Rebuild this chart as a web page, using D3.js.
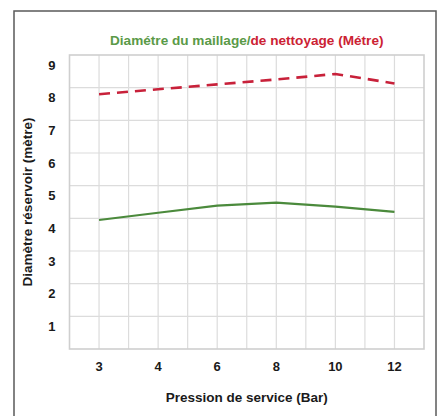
<!DOCTYPE html>
<html><head><meta charset="utf-8">
<script src="https://cdn.jsdelivr.net/npm/d3@7"></script>
<style>body{margin:0;background:#fff}svg{display:block}text{font-family:"Liberation Sans",Arial,sans-serif;font-weight:bold}</style>
</head><body>
<script>
const categories = ["3","4","6","8","10","12"];
const cleaningDiameter = [7.8, 7.95, 8.1, 8.25, 8.42, 8.13];
const meshDiameter = [3.95, 4.17, 4.39, 4.48, 4.36, 4.2];
const yTicks = [1,2,3,4,5,6,7,8,9];

const W = 442, H = 416;
const svg = d3.select("body").append("svg").attr("width", W).attr("height", H);
svg.append("rect").attr("x",14).attr("y",11).attr("width",422).attr("height",420)
  .attr("fill","#fff").attr("stroke","#5a5a5a").attr("stroke-width",1.5);

const L = 69.5, R = 424, T = 55, B = 349;
const x = d3.scaleBand().domain(categories).range([L, R]);
const y = d3.scaleLinear().domain([0, 9]).range([B, T]);

const g = svg.append("g");
const vx = [];
categories.forEach(c => { vx.push(x(c)); vx.push(x(c) + x.bandwidth()/2); });
g.selectAll(".vg").data(vx.slice(1)).enter().append("line")
  .attr("x1", d=>d).attr("x2", d=>d).attr("y1", T).attr("y2", B)
  .attr("stroke","#dcdcdc").attr("stroke-width",1.2);
g.selectAll(".hg").data(yTicks.slice(0,-1)).enter().append("line")
  .attr("x1", L).attr("x2", R).attr("y1", d=>y(d)).attr("y2", d=>y(d))
  .attr("stroke","#dcdcdc").attr("stroke-width",1.2);
g.append("rect").attr("x",L).attr("y",T).attr("width",R-L).attr("height",B-T)
  .attr("fill","none").attr("stroke","#cfcfcf").attr("stroke-width",1.6);

const yAxis = d3.axisLeft(y).tickValues(yTicks).tickSize(0).tickPadding(14);
const ya = svg.append("g").attr("transform",`translate(${L},0)`).call(yAxis);
ya.select(".domain").remove();
ya.selectAll("text").attr("font-size",13).attr("fill","#1a1a1a").attr("dy","1.1em");

const xAxis = d3.axisBottom(x).tickSize(0).tickPadding(13);
const xa = svg.append("g").attr("transform",`translate(0,${B})`).call(xAxis);
xa.select(".domain").remove();
xa.selectAll("text").attr("font-size",13).attr("fill","#1a1a1a");

const cx = c => x(c) + x.bandwidth()/2;
const line = d3.line().x((d,i)=>cx(categories[i])).y(d=>y(d));
svg.append("path").datum(meshDiameter).attr("d", line).attr("fill","none")
  .attr("stroke","#4b8a3c").attr("stroke-width",2.2);
svg.append("path").datum(cleaningDiameter).attr("d", line).attr("fill","none")
  .attr("stroke","#c8213a").attr("stroke-width",2.6).attr("stroke-dasharray","11,7");

const t = svg.append("text").attr("x",(L+R)/2).attr("y",45).attr("text-anchor","middle").attr("font-size",13.6);
t.append("tspan").attr("fill","#5a9a48").text("Diamétre du maillage/");
t.append("tspan").attr("fill","#cc2233").text("de nettoyage (Métre)");

svg.append("text").attr("x",(L+R)/2).attr("y",402).attr("text-anchor","middle")
  .attr("font-size",13.5).attr("fill","#1a1a1a").text("Pression de service (Bar)");
svg.append("text").attr("transform",`translate(32,${(T+B)/2}) rotate(-90)`).attr("text-anchor","middle")
  .attr("font-size",13.5).attr("fill","#1a1a1a").text("Diamètre réservoir (mètre)");
</script>
</body></html>
